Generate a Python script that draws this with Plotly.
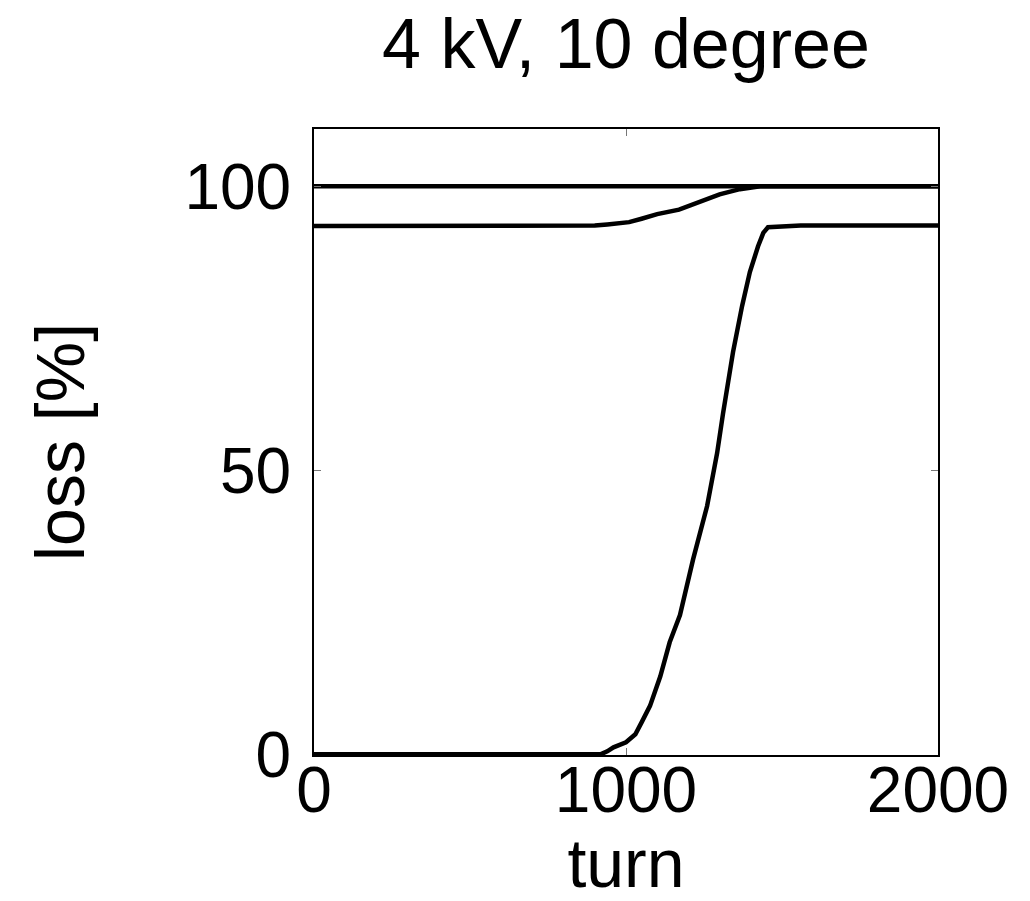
import plotly.graph_objects as go

# data
top_turn = [0, 2000]
top_loss = [100.0, 100.0]

mid_turn = [0, 850, 900, 940, 980, 1010, 1050, 1100, 1170, 1240, 1300, 1365, 1400, 1430, 1500, 2000]
mid_loss = [93.0, 93.0, 93.1, 93.3, 93.5, 93.7, 94.3, 95.1, 95.9, 97.4, 98.6, 99.5, 99.8, 100.0, 100.0, 100.0]

low_turn = [0, 920, 940, 960, 1000, 1030, 1050, 1077, 1110, 1140, 1173, 1215, 1260,
            1292, 1311, 1343, 1372, 1397, 1423, 1440, 1455, 1560, 2000]
low_loss = [0.0, 0.0, 0.5, 1.2, 2.1, 3.5, 5.6, 8.5, 13.7, 19.7, 24.5, 34.3, 43.7,
            53.0, 60.0, 70.8, 78.9, 84.9, 89.4, 91.8, 92.8, 93.1, 93.1]

x_ticks = [0, 1000, 2000]
y_ticks = [0, 50, 100]

FONT = "Liberation Sans, Arial, sans-serif"

fig = go.Figure()
for xs, ys in [(top_turn, top_loss), (mid_turn, mid_loss), (low_turn, low_loss)]:
    fig.add_trace(go.Scatter(x=xs, y=ys, mode="lines",
                             line=dict(color="black", width=4.5),
                             cliponaxis=False, showlegend=False))

axis_common = dict(
    showline=True, linecolor="black", linewidth=2, mirror="ticks",
    ticks="inside", ticklen=7, tickwidth=1, tickcolor="#777777",
    showgrid=False, zeroline=False, automargin=False,
    tickfont=dict(family=FONT, size=64, color="black"),
)

fig.update_xaxes(range=[0, 2000], tickvals=x_ticks,
                 title=dict(text="turn", font=dict(family=FONT, size=68, color="black"), standoff=8),
                 ticklabelstandoff=-22, **axis_common)
fig.update_yaxes(range=[-0.15, 110.1], tickvals=y_ticks,
                 title=dict(text="loss [%]", font=dict(family=FONT, size=68, color="black"), standoff=78),
                 ticklabelstandoff=8, **axis_common)

fig.update_layout(
    width=1030, height=901,
    margin=dict(l=314, r=92, t=129, b=146),
    plot_bgcolor="white", paper_bgcolor="white",
    title=dict(text="4 kV, 10 degree", x=0.5, xref="paper", xanchor="center",
               y=0.952, yanchor="middle",
               font=dict(family=FONT, size=70, color="black")),
)

fig.write_html("out.html")
